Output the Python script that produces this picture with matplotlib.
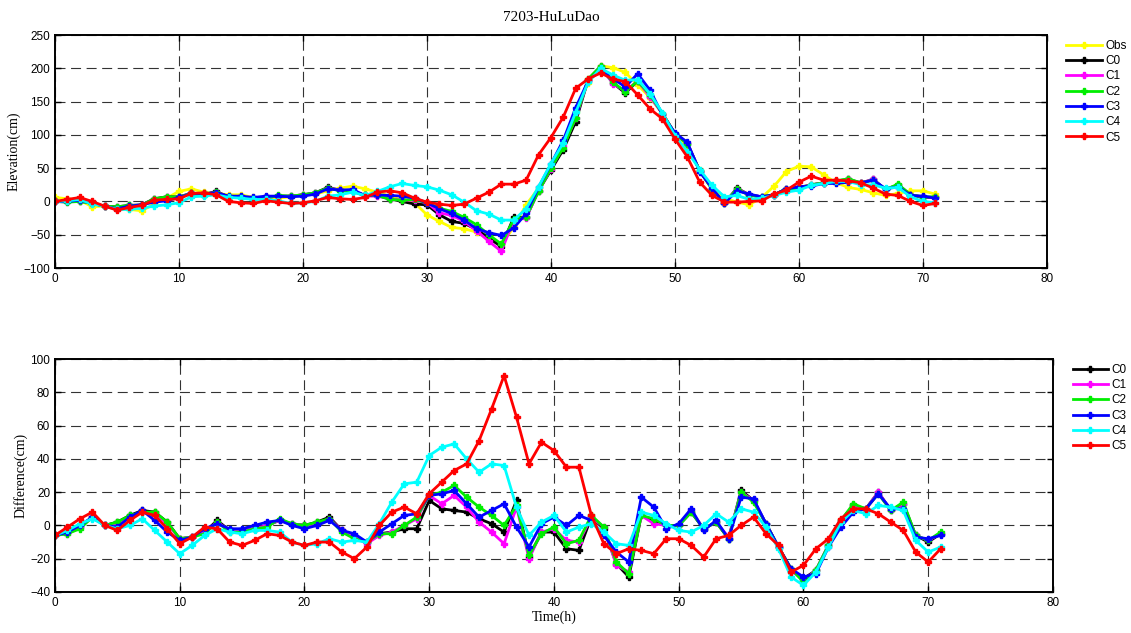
import matplotlib
matplotlib.use("Agg")
import matplotlib.pyplot as plt
import numpy as np

# hours 0..71
hours = list(range(72))

obs = [6, 4, 2, -8, -7, -10, -12, -14, -4, 5,
       15, 19, 14, 12, 10, 10, 6, 6, 5, 7,
       10, 11, 16, 20, 23, 19, 14, 8, 2, -2,
       -20, -30, -39, -41, -46, -56, -64, -39, -5, 20,
       51, 92, 135, 178, 204, 201, 194, 175, 156, 132,
       102, 79, 48, 17, 5, -1, -5, 6, 23, 45,
       53, 52, 40, 28, 21, 18, 13, 9, 12, 16,
       16, 11]

# differences (model - obs), cm
d_c0 = [-6, -4, -1, 5, 0, 2, 6, 9, 8, 2,
        -8, -7, -4, 3, -3, -3, -2, 0, 3, 1,
        0, 2, 5, -3, -7, -10, -5, -4, -2, -2,
        15, 10, 9, 8, 4, 1, -4, 15, -19, -4,
        -4, -14, -15, 5, -2, -23, -31, 6, 3, 0,
        0, 8, -2, 2, -8, 21, 15, 1, -13, -26,
        -32, -27, -12, 3, 12, 10, 20, 9, 13, -6,
        -10, -5]
d_c1 = [-6, -5, -1, 5, 0, 1, 5, 8, 7, 1,
        -8, -7, -4, 2, -3, -3, -2, 0, 3, 1,
        0, 1, 4, -3, -7, -11, -6, -4, 0, 4,
        18, 13, 18, 11, 2, -4, -11, 11, -20, -4,
        -2, -9, -10, 5, -1, -24, -28, 6, 1, 0,
        0, 9, -2, 2, -7, 20, 15, 1, -13, -27,
        -33, -27, -12, 2, 12, 10, 20, 9, 13, -6,
        -9, -5]
d_c2 = [-6, -5, -2, 5, 0, 2, 6, 8, 8, 2,
        -8, -7, -5, 2, -4, -4, -2, -1, 4, 1,
        0, 2, 4, -4, -8, -10, -5, -5, 0, 5,
        18, 20, 24, 17, 11, 6, 0, 12, -18, -5,
        -1, -11, -9, 6, -1, -22, -29, 6, 4, 0,
        0, 8, -2, 2, -8, 20, 14, 1, -13, -26,
        -34, -27, -12, 3, 13, 10, 19, 9, 14, -6,
        -9, -4]
d_c3 = [-6, -4, 0, 5, 0, -1, 5, 9, 3, -4,
        -9, -7, -2, 1, -2, -2, 0, 2, 3, 0,
        -2, 0, 3, -3, -5, -10, -4, 1, 6, 7,
        18, 19, 21, 13, 5, 9, 13, -1, -13, 1,
        5, 0, 6, 3, -6, -16, -22, 17, 11, -2,
        1, 10, -3, 3, -8, 17, 16, 1, -13, -26,
        -31, -29, -13, -1, 8, 10, 19, 10, 10, -7,
        -8, -6]
d_c4 = [-6, -3, 1, 4, 0, -2, 0, 4, -3, -10,
        -17, -12, -6, -2, -4, -5, -3, -3, -4, -10,
        -12, -11, -8, -10, -9, -10, 1, 14, 25, 26,
        42, 47, 49, 40, 32, 37, 36, 11, -6, 2,
        6, -4, -1, 1, -4, -11, -12, 8, 6, 1,
        -3, -4, 0, 7, 2, 10, 8, -1, -14, -31,
        -36, -28, -13, 2, 9, 7, 12, 11, 9, -9,
        -16, -13]
d_c5 = [-6, -1, 4, 8, 0, -3, 3, 8, 6, -2,
        -11, -7, -1, -2, -10, -12, -9, -5, -6, -10,
        -12, -10, -10, -16, -20, -13, 0, 8, 11, 7,
        19, 26, 33, 37, 51, 70, 90, 65, 37, 50,
        45, 35, 35, 6, -11, -17, -14, -15, -17, -8,
        -8, -12, -19, -8, -6, 0, 5, -5, -12, -28,
        -24, -14, -8, 4, 10, 10, 7, 2, -3, -16,
        -22, -14]

names = ["C0", "C1", "C2", "C3", "C4", "C5"]
colors = ["black", "magenta", "#00ee00", "blue", "cyan", "red"]
diffs = [d_c0, d_c1, d_c2, d_c3, d_c4, d_c5]

serif = ["Liberation Serif", "DejaVu Serif"]
plt.rcParams["font.family"] = ["Liberation Sans", "DejaVu Sans"]
plt.rcParams["font.size"] = 8

fig = plt.figure(figsize=(11.31, 6.33), dpi=100)
ax1 = fig.add_axes([0.0486, 0.5766, 0.877, 0.368])
ax2 = fig.add_axes([0.0486, 0.0648, 0.8824, 0.368])

lstyle = dict(lw=2, marker="P", ms=5)

ax1.plot(hours, obs, color="yellow", label="Obs", **lstyle)
for n, c, d in zip(names, colors, diffs):
    elev = np.array(obs) + np.array(d)
    ax1.plot(hours, elev, color=c, label=n, **lstyle)
    ax2.plot(hours, d, color=c, label=n, **lstyle)

ax1.set_xlim(0, 80)
ax1.set_ylim(-100, 250)
ax1.set_yticks(range(-100, 251, 50))
ax2.set_xlim(0, 80)
ax2.set_ylim(-40, 100)
ax2.set_yticks(range(-40, 101, 20))

for ax in (ax1, ax2):
    ax.set_xticks(range(0, 81, 10))
    ax.grid(True, color="0.2", linestyle=(0, (9, 5)), lw=0.8)
    ax.tick_params(direction="in", top=True, right=True, length=4, width=1, labelsize=8.5)
    for s in ax.spines.values():
        s.set_linewidth(1.4)
    ax.legend(loc="upper left", bbox_to_anchor=(1.015, 1.0), frameon=False,
              handlelength=3, labelspacing=0.28, fontsize=8.5, borderaxespad=0,
              handletextpad=0.3)

ax1.set_title("7203-HuLuDao", family=serif, fontsize=11, pad=10)
ax1.set_ylabel("Elevation(cm)", family=serif, fontsize=10, labelpad=2)
ax2.set_ylabel("Difference(cm)", family=serif, fontsize=10, labelpad=2)
ax2.set_xlabel("Time(h)", family=serif, fontsize=10, labelpad=1)

fig.savefig("out.png", dpi=100)
